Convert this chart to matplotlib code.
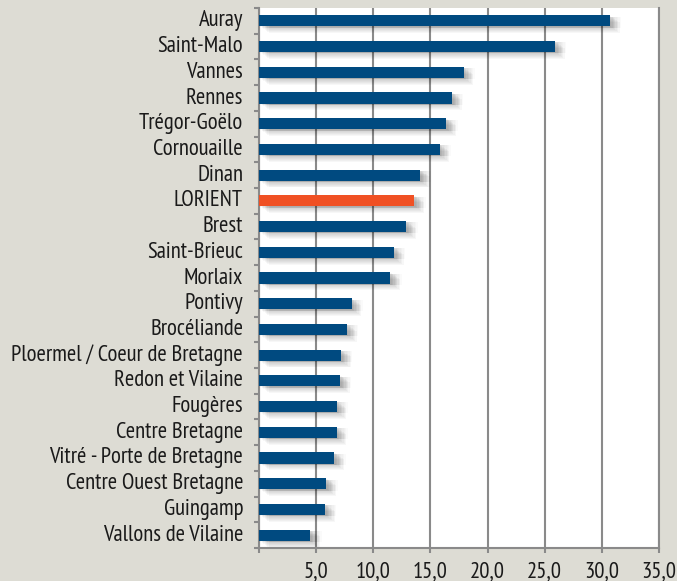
import numpy as np
import matplotlib
matplotlib.use("Agg")
import matplotlib.pyplot as plt
import matplotlib.patheffects as pe

regions = ["Auray", "Saint-Malo", "Vannes", "Rennes", "Trégor-Goëlo", "Cornouaille",
           "Dinan", "LORIENT", "Brest", "Saint-Brieuc", "Morlaix", "Pontivy",
           "Brocéliande", "Ploermel / Coeur de Bretagne", "Redon et Vilaine",
           "Fougères", "Centre Bretagne", "Vitré - Porte de Bretagne",
           "Centre Ouest Bretagne", "Guingamp", "Vallons de Vilaine"]
values = [30.7, 25.9, 17.9, 16.9, 16.4, 15.8, 14.1, 13.6, 12.9, 11.8, 11.5,
          8.1, 7.7, 7.2, 7.1, 6.8, 6.8, 6.6, 5.9, 5.8, 4.5]
highlight = "LORIENT"
xticks = [0, 5, 10, 15, 20, 25, 30, 35]
xlabels = ["", "5,0", "10,0", "15,0", "20,0", "25,0", "30,0", "35,0"]

plt.rcParams["font.family"] = ["PT Sans Narrow", "DejaVu Sans"]

bg = "#dddcd4"
blue = "#004a80"
orange = "#f05023"
grey = "#8a8a8a"

fig = plt.figure(figsize=(6.77, 5.81), dpi=100, facecolor=bg)
ax = fig.add_axes([259 / 677, 1 - 548 / 581, 400 / 677, 540 / 581])
ax.set_facecolor("white")

y = np.arange(len(regions))
colors = [orange if r == highlight else blue for r in regions]

# ombre floue approximative
shadow = []
for d in (1, 2, 3, 4, 5, 6, 7):
    shadow.append(pe.SimplePatchShadow(offset=(d, -d * 0.7), shadow_rgbFace="#000000", alpha=0.03))
    shadow.append(pe.SimplePatchShadow(offset=(d + 1, -1), shadow_rgbFace="#000000", alpha=0.02))
ax.barh(y, values, height=0.43, color=colors, zorder=3,
        path_effects=shadow + [pe.Normal()])

ax.set_ylim(len(regions) - 0.5, -0.5)
ax.set_xlim(0, 35)

ax.set_yticks(y)
ax.set_yticklabels(regions, fontsize=16.3, color="#1a1a1a", va="center")
ax.set_yticks(np.arange(len(regions) + 1) - 0.5, minor=True)
ax.tick_params(axis="y", which="major", length=0, pad=11.5)
ax.tick_params(axis="y", which="minor", length=3.6, width=1.5, color=grey)

ax.set_xticks(xticks)
ax.set_xticklabels(xlabels, fontsize=16.3, color="#1a1a1a")
ax.tick_params(axis="x", length=3.6, width=1.5, color=grey, pad=6)

ax.grid(axis="x", color=grey, linewidth=1.5, zorder=1)
ax.spines["top"].set_visible(False)
for s in ["left", "bottom", "right"]:
    ax.spines[s].set_color(grey)
    ax.spines[s].set_linewidth(1.5)

plt.savefig("out.png", dpi=100, facecolor=bg)
